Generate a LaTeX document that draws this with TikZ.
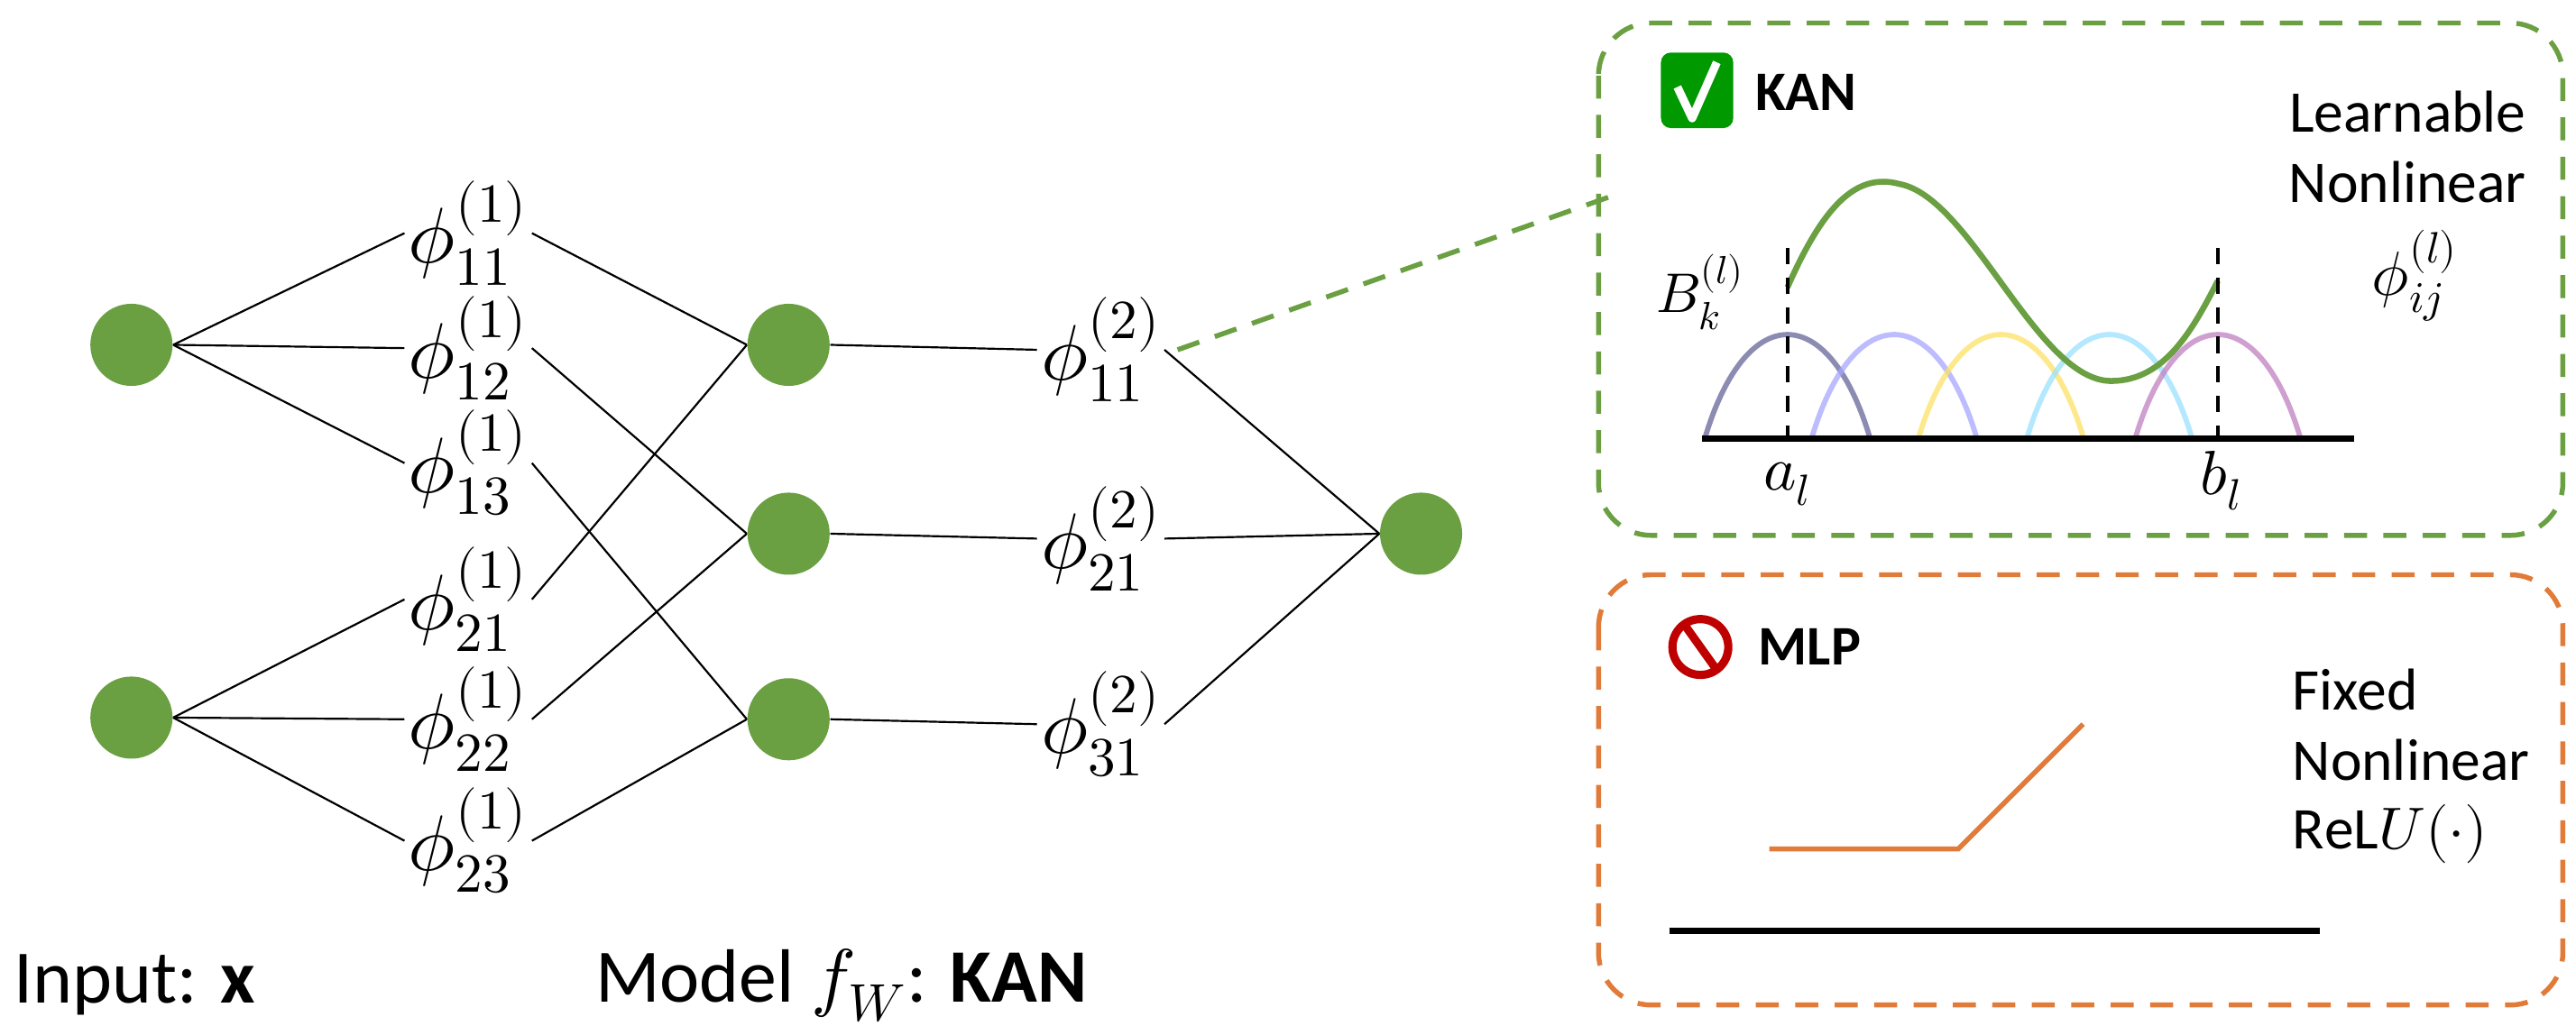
\documentclass[tikz,border=0pt]{standalone}
\usepackage{fontspec}
\setmainfont{Carlito}
\usepackage{unicode-math}
\setmathfont{Latin Modern Math}
\definecolor{kgreen}{HTML}{6A9F42}
\definecolor{korange}{HTML}{E07B39}
\begin{document}
\begin{tikzpicture}[x=0.5pt,y=-0.5pt,
  dot/.style={circle,fill=kgreen,minimum size=25pt,inner sep=0pt},
  phi/.style={inner sep=1pt,font=\fontsize{24}{28}\selectfont},
  edge/.style={line width=0.6pt},
  lbl/.style={font=\fontsize{18}{22}\selectfont,anchor=west,inner sep=0pt},
  bump/.style={line width=1.6pt,opacity=0.75}]
\useasboundingbox (0,0) rectangle (1568,630);
% nodes
\node[dot] (i1) at (80,210) {};
\node[dot] (i2) at (80,437) {};
\node[dot] (h1) at (480,210) {};
\node[dot] (h2) at (480,325) {};
\node[dot] (h3) at (480,438) {};
\node[dot] (o) at (865,325) {};
\node[phi] (p11) at (285,142) {$\phi^{(1)}_{11}$};
\node[phi] (p12) at (285,212) {$\phi^{(1)}_{12}$};
\node[phi] (p13) at (285,282) {$\phi^{(1)}_{13}$};
\node[phi] (p21) at (285,365) {$\phi^{(1)}_{21}$};
\node[phi] (p22) at (285,438) {$\phi^{(1)}_{22}$};
\node[phi] (p23) at (285,512) {$\phi^{(1)}_{23}$};
\node[phi] (q11) at (670,213) {$\phi^{(2)}_{11}$};
\node[phi] (q21) at (670,328) {$\phi^{(2)}_{21}$};
\node[phi] (q31) at (670,441) {$\phi^{(2)}_{31}$};
\foreach \p in {p11,p12,p13} \draw[edge] (i1.east) -- (\p.west);
\foreach \p in {p21,p22,p23} \draw[edge] (i2.east) -- (\p.west);
\draw[edge] (p11.east) -- (h1.west);
\draw[edge] (p12.east) -- (h2.west);
\draw[edge] (p13.east) -- (h3.west);
\draw[edge] (p21.east) -- (h1.west);
\draw[edge] (p22.east) -- (h2.west);
\draw[edge] (p23.east) -- (h3.west);
\draw[edge] (h1.east) -- (q11.west);
\draw[edge] (h2.east) -- (q21.west);
\draw[edge] (h3.east) -- (q31.west);
\foreach \q in {q11,q21,q31} \draw[edge] (\q.east) -- (o.west);
% bottom labels
\node[anchor=west,inner sep=0pt,font=\fontsize{23}{27}\selectfont] (tin) at (8,600) {Input: $\mathbf{x}$};
\node[anchor=west,inner sep=0pt,font=\fontsize{23}{27}\selectfont] (tmod) at (362,600) {Model $f_W$: \textbf{KAN}};
% KAN box
\draw[kgreen,line width=1.5pt,dash pattern=on 7pt off 5pt,rounded corners=16pt] (973,14) rectangle (1560,326);
\coordinate (kb) at (985,118);
\draw[kgreen,line width=1.5pt,dash pattern=on 7pt off 5pt] ([xshift=4pt]q11.east) -- (kb);
% check icon
\node[fill=green!60!black,rounded corners=3pt,minimum width=22pt,minimum height=23pt,inner sep=0pt] (chk) at (1033,55) {};
\draw[white,line width=2.5pt,line join=round] (1021,53) -- (1030,72) -- (1045,38);
\node[lbl,font=\fontsize{17}{20}\selectfont\bfseries] (kan) at (1068,56) {KAN};
\node[lbl,anchor=east] (lea) at (1538,68) {Learnable};
\node[lbl,anchor=east] (nonl) at (1538,111) {Nonlinear};
\node[inner sep=0pt,font=\fontsize{19}{23}\selectfont] (phil) at (1470,168) {$\phi^{(l)}_{ij}$};
\node[inner sep=0pt,font=\fontsize{17}{20}\selectfont] (bk) at (1035,178) {$B^{(l)}_k$};
% bumps
\draw[bump,color=gray!80!blue] (1038,266) .. controls (1063,183) and (1113,183) .. (1138,266);
\draw[bump,color=blue!35!white] (1103,266) .. controls (1128,183) and (1178,183) .. (1203,266);
\draw[bump,color=yellow!70!orange!60!white] (1168,266) .. controls (1193,183) and (1243,183) .. (1268,266);
\draw[bump,color=blue!30!cyan!40!white] (1234,266) .. controls (1259,183) and (1309,183) .. (1334,266);
\draw[bump,color=violet!50!white] (1300,266) .. controls (1325,183) and (1375,183) .. (1400,266);
\draw[kgreen,line width=1.8pt] (1088,175) .. controls (1110,125) and (1130,105) .. (1156,112)
  .. controls (1200,120) and (1240,232) .. (1285,232)
  .. controls (1318,232) and (1335,200) .. (1350,171);
\draw[line width=1pt,dash pattern=on 5pt off 4pt] (1088,151) -- (1088,269);
\draw[line width=1pt,dash pattern=on 5pt off 4pt] (1350,151) -- (1350,269);
\draw[line width=1.8pt] (1036,267) -- (1433,267);
\node[inner sep=0pt,font=\fontsize{19}{23}\selectfont] (al) at (1088,295) {$a_l$};
\node[inner sep=0pt,font=\fontsize{19}{23}\selectfont] (bl) at (1352,293) {$b_l$};
% MLP box
\draw[korange,line width=1.5pt,dash pattern=on 7pt off 5pt,rounded corners=16pt] (973,350) rectangle (1560,612);
\node[circle,draw=red!75!black,line width=2.5pt,fill=white,minimum width=17pt,inner sep=0pt] (no) at (1035,394) {};
\draw[red!75!black,line width=2.5pt] (1025,380) -- (1045,408);
\node[lbl,font=\fontsize{17}{20}\selectfont\bfseries] (mlp) at (1070,394) {MLP};
\node[lbl] (fix) at (1395,420) {Fixed};
\node[lbl] (non2) at (1395,463) {Nonlinear};
\node[lbl] (relu) at (1395,508) {$\mathrm{ReL}U(\cdot)$};
\draw[korange,line width=1.5pt] (1077,517) -- (1192,517) -- (1268,441);
\draw[line width=1.8pt] (1016,567) -- (1412,567);
\end{tikzpicture}
\end{document}
